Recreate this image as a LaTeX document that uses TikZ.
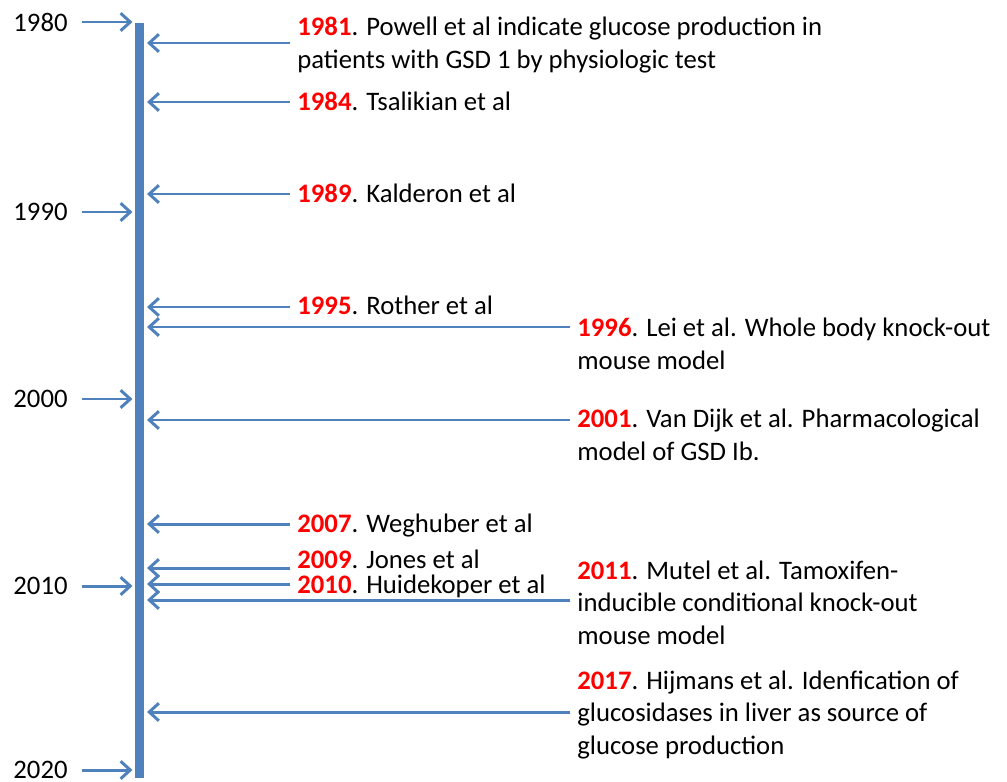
\documentclass[tikz,border=0pt]{standalone}
\usepackage{fontspec}
\setmainfont{Carlito}
\usetikzlibrary{arrows.meta}
\definecolor{lineblue}{RGB}{79,129,189}
\newcommand{\yr}[1]{\textcolor{red}{\textbf{#1}}}

\begin{document}
\begin{tikzpicture}[x=0.02cm,y=-0.02cm,
    bar/.style={draw=lineblue, line width=5.4pt},
    ev/.style={draw=lineblue, line width=1.7pt, -{Straight Barb[length=5.5pt,width=10pt]}},
    txt/.style={anchor=base west, align=left, inner xsep=4pt, inner ysep=0pt,
      font=\fontsize{15.2}{18.5}\selectfont},
    lbl/.style={anchor=east, inner xsep=8pt, inner ysep=0pt,
      font=\fontsize{15.2}{16}\selectfont}]
\useasboundingbox (0,0) rectangle (1007,781);

% time axis
\coordinate (axtop) at (139.5,23);
\coordinate (axbot) at (139.5,778);
\draw[bar] (axtop) -- (axbot);

% decades on the left
\node[lbl] (y1980) at (82,22) {1980};
\node[lbl] (y1990) at (82,212) {1990};
\node[lbl] (y2000) at (82,399) {2000};
\node[lbl] (y2010) at (82,586) {2010};
\node[lbl] (y2020) at (82,770) {2020};
\foreach \d in {1980,1990,2000,2010,2020}
  \draw[ev, shorten >=4pt] (y\d.east) -- (y\d -| axtop);

% where the arrows meet the axis
\coordinate (e1981) at (147,43);
\coordinate (e1984) at (147,102);
\coordinate (e1989) at (147,194);
\coordinate (e1995) at (147,307);
\coordinate (e1996) at (147,327);
\coordinate (e2001) at (147,420);
\coordinate (e2007) at (147,524);
\coordinate (e2009) at (147,568);
\coordinate (e2010) at (147,584);
\coordinate (e2011) at (147,600);
\coordinate (e2017) at (147,712);

% events (base = last line)
\node[txt] (t1981) at (290,68) {\yr{1981}. Powell et al indicate glucose production in\\patients with GSD 1 by physiologic test};
\node[txt] (t1984) at (290,110) {\yr{1984}. Tsalikian et al};
\node[txt] (t1989) at (290,202) {\yr{1989}. Kalderon et al};
\node[txt] (t1995) at (290,314) {\yr{1995}. Rother et al};
\node[txt] (t1996) at (570,369) {\yr{1996}. Lei et al. Whole body knock-out\\mouse model};
\node[txt] (t2001) at (570,460) {\yr{2001}. Van Dijk et al. Pharmacological\\model of GSD Ib.};
\node[txt] (t2007) at (290,532) {\yr{2007}. Weghuber et al};
\node[txt] (t2009) at (290,568) {\yr{2009}. Jones et al};
\node[txt] (t2010) at (290,593) {\yr{2010}. Huidekoper et al};
\node[txt] (t2011) at (570,644) {\yr{2011}. Mutel et al. Tamoxifen-\\inducible conditional knock-out\\mouse model};
\node[txt] (t2017) at (570,754) {\yr{2017}. Hijmans et al. Idenfication of\\glucosidases in liver as source of\\glucose production};

\foreach \e in {1981,1984,1989,1995,1996,2001,2007,2009,2010,2011,2017}
  \draw[ev] (t\e.west |- e\e) -- (e\e);
\end{tikzpicture}
\end{document}
